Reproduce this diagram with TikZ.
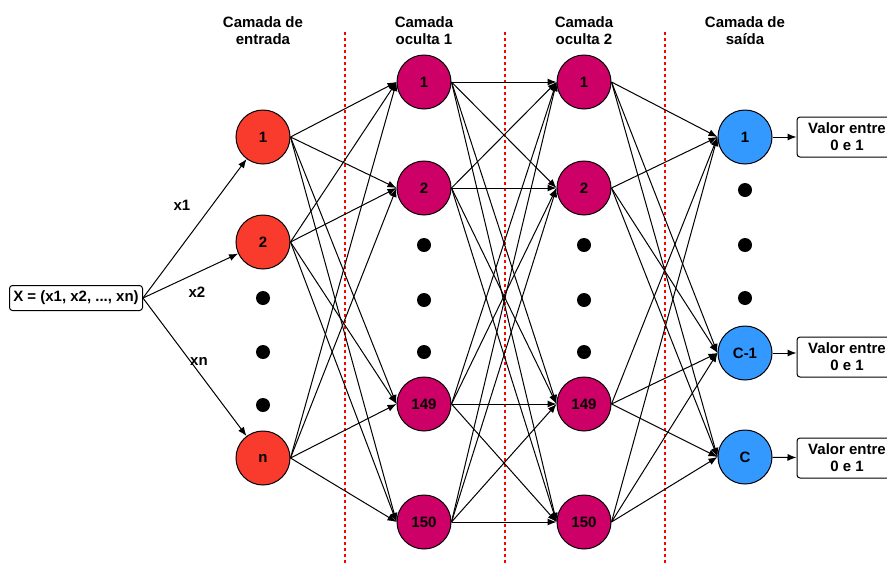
\documentclass[tikz,border=0pt]{standalone}
\usepackage{fontspec}
\setmainfont{Liberation Sans}
\usetikzlibrary{arrows.meta}
\definecolor{entradacor}{HTML}{F93B2E}
\definecolor{ocultacor}{HTML}{CC0066}
\definecolor{saidacor}{HTML}{3399FF}
\definecolor{divisacor}{HTML}{FF0000}

\begin{document}
\begin{tikzpicture}[x=1pt,y=-1pt,font=\fontsize{15}{17}\selectfont\bfseries]

\tikzset{neuron/.style = {shape=circle,draw,line width=1pt,minimum size=54pt,inner sep=0pt}}
\tikzset{ponto/.style = {shape=circle,fill=black,minimum size=14pt,inner sep=0pt}}
\tikzset{caixa/.style = {draw,line width=1pt,rounded corners=3pt,align=center}}
\tikzset{edge/.style = {-{Latex[length=9pt,width=7pt]},line width=1pt}}
\tikzset{divisa/.style = {draw=divisacor,line width=1.2pt,dash pattern=on 3pt off 3pt}}

\useasboundingbox (0,0) rectangle (887,563);

%titulos
\node[align=center] (t1) at (263,31) {Camada de\\entrada};
\node[align=center] (t2) at (424,31) {Camada\\oculta 1};
\node[align=center] (t3) at (584,31) {Camada\\oculta 2};
\node[align=center] (t4) at (745,31) {Camada de\\saída};
%divisas
\path[divisa] (345,32) -- (345,563);
\path[divisa] (505,32) -- (505,563);
\path[divisa] (665,32) -- (665,563);
%entrada
\node[caixa,minimum width=133pt,minimum height=25pt,inner sep=1pt] (x) at (76,298) {X = (x1, x2, ..., xn)};
\node[neuron,fill=entradacor] (e1) at (263,137) {1};
\node[neuron,fill=entradacor] (e2) at (263,242) {2};
\node[neuron,fill=entradacor] (en) at (263,458) {n};
\node[ponto] (d1) at (263,298) {};
\node[ponto] (d2) at (263,352) {};
\node[ponto] (d3) at (263,405) {};
%oculta 1
\node[neuron,fill=ocultacor] (p1) at (424,82) {1};
\node[neuron,fill=ocultacor] (p2) at (424,188) {2};
\node[neuron,fill=ocultacor] (p149) at (424,404) {149};
\node[neuron,fill=ocultacor] (p150) at (424,522) {150};
\node[ponto] (d4) at (424,245) {};
\node[ponto] (d5) at (424,300) {};
\node[ponto] (d6) at (424,352) {};
%oculta 2
\node[neuron,fill=ocultacor] (q1) at (584,82) {1};
\node[neuron,fill=ocultacor] (q2) at (584,188) {2};
\node[neuron,fill=ocultacor] (q149) at (584,404) {149};
\node[neuron,fill=ocultacor] (q150) at (584,522) {150};
\node[ponto] (d7) at (584,245) {};
\node[ponto] (d8) at (584,300) {};
\node[ponto] (d9) at (584,352) {};
%saida
\node[neuron,fill=saidacor] (s1) at (745,137) {1};
\node[neuron,fill=saidacor] (sc1) at (745,353) {C-1};
\node[neuron,fill=saidacor] (sc) at (745,457) {C};
\node[ponto] (d10) at (745,190) {};
\node[ponto] (d11) at (745,245) {};
\node[ponto] (d12) at (745,298) {};
\node[caixa,minimum width=100pt,minimum height=40pt,inner sep=1pt] (v1) at (847,137) {Valor entre\\0 e 1};
\node[caixa,minimum width=100pt,minimum height=40pt,inner sep=1pt] (v2) at (847,357) {Valor entre\\0 e 1};
\node[caixa,minimum width=100pt,minimum height=40pt,inner sep=1pt] (v3) at (847,458) {Valor entre\\0 e 1};
%edges
\draw[edge] (x.east) -- (e1);
\draw[edge] (x.east) -- (e2);
\draw[edge] (x.east) -- (en);
\node (l1) at (182,205) {x1};
\node (l2) at (197,292) {x2};
\node (ln) at (199,361) {xn};
\foreach \a in {e1,e2,en}
  \foreach \b in {p1,p2,p149,p150}
    \path[edge] (\a.east) edge (\b.west);
\foreach \a in {p1,p2,p149,p150}
  \foreach \b in {q1,q2,q149,q150}
    \path[edge] (\a.east) edge (\b.west);
\foreach \a in {q1,q2,q149,q150}
  \foreach \b in {s1,sc1,sc}
    \path[edge] (\a.east) edge (\b.west);
\draw[edge] (s1) -- (v1);
\draw[edge] (sc1) -- (sc1 -| v2.west);
\draw[edge] (sc) -- (v3);
\end{tikzpicture}
\end{document}
